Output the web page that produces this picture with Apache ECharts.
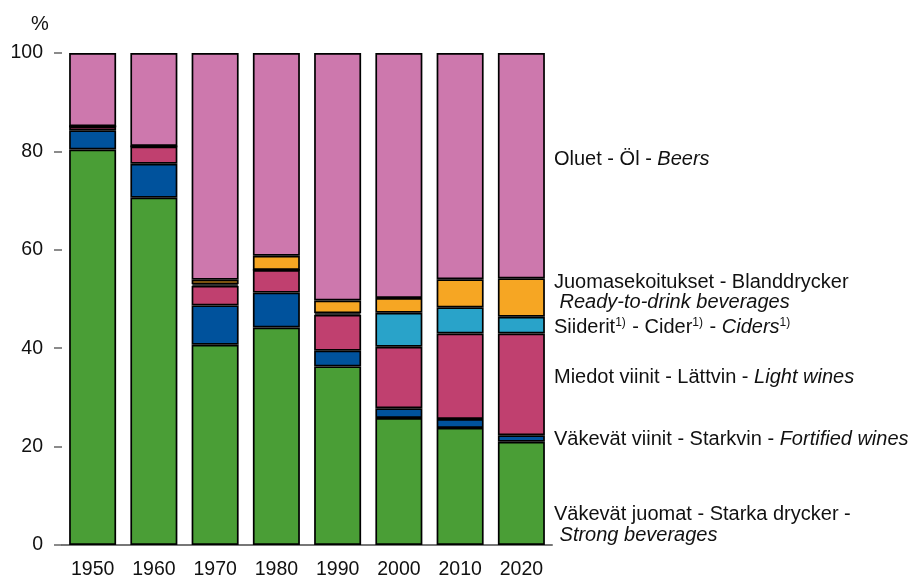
<!DOCTYPE html>
<html>
<head>
<meta charset="utf-8">
<script src="https://cdn.jsdelivr.net/npm/echarts@6/dist/echarts.min.js"></script>
<style>
  html, body { margin: 0; padding: 0; background: #fff; }
  #chart { width: 921px; height: 580px; }
</style>
</head>
<body>
<div id="chart"></div>
<script>
// categories
const years = ['1950', '1960', '1970', '1980', '1990', '2000', '2010', '2020']

// shares, %
const strong = [80.4, 70.6, 40.7, 44.2, 36.3, 25.8, 23.8, 21.0]
const fortified = [3.9, 6.9, 8.0, 7.1, 3.2, 2.0, 1.8, 1.3]
const lightWines = [0.8, 3.5, 4.0, 4.6, 7.3, 12.5, 17.4, 20.7]
const ciders = [0, 0, 0.3, 0, 0.3, 6.9, 5.3, 3.4]
const rtd = [0, 0.1, 0.9, 2.9, 2.6, 3.0, 5.7, 7.8]
const beers = [14.9, 18.9, 46.1, 41.2, 50.3, 49.8, 46.0, 45.8]

const font = '"Liberation Sans", Arial, sans-serif'

const chart = echarts.init(document.getElementById('chart'))

function bar(name, data, color) {
  return {
    name: name,
    type: 'bar',
    stack: 'total',
    barWidth: 47,
    data: data,
    itemStyle: {
      color: color,
      borderColor: '#000',
      borderWidth: 1.7
    },
    emphasis: { disabled: true },
    animation: false
  }
}

const richStyles = {
  i: { fontStyle: 'italic', fontSize: 20, fontFamily: font },
  s: { fontSize: 12, fontFamily: font, verticalAlign: 'top', padding: [0, 1, 0, 0] }
}

function label(y, text, lineHeight) {
  return {
    type: 'text',
    left: 554,
    top: y,
    style: {
      text: text,
      fill: '#111',
      font: '20px ' + font,
      lineHeight: lineHeight || 20,
      rich: richStyles
    }
  }
}

chart.setOption({
  textStyle: { fontFamily: font },
  grid: {
    left: 62,
    right: 369,
    top: 53,
    bottom: 35
  },
  xAxis: {
    type: 'category',
    data: years,
    axisTick: { show: false },
    axisLine: { lineStyle: { color: '#777', width: 2 } },
    axisLabel: { color: '#111', fontSize: 19.5, margin: 15 }
  },
  yAxis: {
    type: 'value',
    min: 0,
    max: 100,
    interval: 20,
    splitLine: { show: false },
    axisLine: { show: false },
    axisTick: { show: true, length: 8, lineStyle: { color: '#666', width: 1.5 } },
    axisLabel: { color: '#111', fontSize: 19.5, margin: 19 }
  },
  graphic: [
    { type: 'text', left: 31, top: 14, style: { text: '%', fill: '#111', font: '20px ' + font } },
    label(149.5, 'Oluet - Öl - {i|Beers}'),
    label(272, 'Juomasekoitukset - Blanddrycker\n {i|Ready-to-drink beverages}', 20),
    label(317, 'Siiderit{s|1)} - Cider{s|1)} - {i|Ciders}{s|1)}'),
    label(367.5, 'Miedot viinit - Lättvin - {i|Light wines}'),
    label(429.5, 'Väkevät viinit - Starkvin - {i|Fortified wines}'),
    label(504, 'Väkevät juomat - Starka drycker -\n {i|Strong beverages}', 21)
  ],
  series: [
    bar('Väkevät juomat', strong, '#4a9e36'),
    bar('Väkevät viinit', fortified, '#00529c'),
    bar('Miedot viinit', lightWines, '#c0406f'),
    bar('Siiderit', ciders, '#29a3c9'),
    bar('Juomasekoitukset', rtd, '#f6a623'),
    bar('Oluet', beers, '#cd78ad')
  ]
})
</script>
</body>
</html>
